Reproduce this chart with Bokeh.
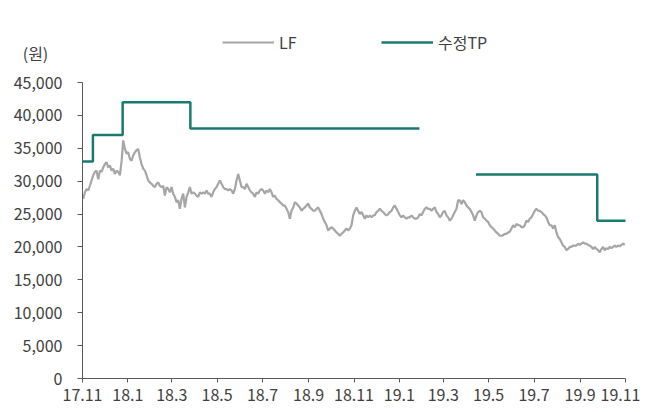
import numpy as np
import pandas as pd
from bokeh.plotting import figure
from bokeh.models import (FixedTicker, NumeralTickFormatter, Legend, LegendItem,
                          Label, Range1d)
from bokeh.embed import file_html
from bokeh.resources import INLINE

# ---- data ----
lf_start = "2017-11-02"
lf_end = "2019-10-31"
lf_values = [
    27300, 28300, 28800, 28600, 29300, 30100, 30900, 31400, 31600, 30300,
    31600, 31400, 32100, 32600, 32900, 32100, 32400, 31600, 31900, 31100,
    31600, 31400, 30900, 33000, 36200, 34900, 34200, 34400, 33400, 33100,
    33900, 34400, 34700, 34900, 33600, 32600, 31900, 31600, 30900, 30100,
    29800, 29600, 29300, 29100, 29600, 29800, 29300, 29100, 29300, 27800,
    29100, 28800, 28300, 29100,
    28100, 27600, 26800, 27100, 25800, 27300, 28100, 26000, 27600, 28300,
    29100, 28100, 28300, 28100, 27800, 27600, 28300, 28100, 28300, 28100,
    28600, 28100, 28100, 27600, 28300, 28800, 29100, 29600, 30100, 29600,
    29100, 28800, 28800, 28600, 28800, 28600, 28100, 28800, 30100, 31100,
    30100, 29100, 29100, 28800, 29600, 29100, 28600, 28300, 28100, 27600,
    28300, 28100, 28600, 28800, 28600,
    28100, 28600, 28300, 28800, 28300, 27600, 27800, 27300, 27100, 26800,
    26600, 26300, 26300, 25800, 25300, 24300, 25500, 26000, 26800, 26600,
    26300, 26000, 25500, 25800, 26000, 26300, 26600, 26000, 25800, 25500,
    25500, 25800, 26000, 25500, 25000, 24300, 23800, 23300, 22500, 22800,
    23000, 22800, 22500, 22200, 22000, 21700, 22000, 22200, 22500, 22800,
    22500, 22800, 23300, 24800,
    25500, 26000, 25500, 25000, 25300, 24800, 24300, 24800, 24500, 24800,
    24500, 24800, 24800, 25300, 25500, 25800, 25500, 25300, 25000, 24800,
    25000, 25300, 25500, 26000, 26300, 25800, 25300, 24800, 24500, 24800,
    24500, 24300, 24500, 24500, 24800, 24500, 24300, 24300, 24500, 25000,
    24800, 25300, 25800, 26000, 25800, 25800, 25500, 25800, 26000, 25300,
    25000, 24500, 24800, 25300,
    25500, 24800, 24500, 24000, 24300, 24800, 25300, 25800, 27100, 27100,
    26500, 27100, 26800, 26300, 26000, 25800, 25300, 24800, 24000, 24800,
    25300, 25500, 25300, 24500, 24300, 24000, 23800, 23300, 23000, 22800,
    22500, 22200, 22000, 21700, 21700, 21800, 22000, 22000, 22200, 22300,
    22800, 23300, 23000, 23500, 23300, 23300, 23000, 23000, 23300, 24000,
    23800, 24300, 24500, 25000,
    25500, 25800, 25500, 25500, 25300, 25000, 24800, 24500, 23800, 23300,
    23300, 22800, 23300, 22200, 21500, 21200, 20700, 20200, 20000, 19500,
    19700, 20000, 20000, 20200, 20200, 20200, 20500, 20300, 20500, 20700,
    20500, 20500, 20300, 20200, 20000, 19700, 20000, 19700, 19500, 19200,
    19700, 20000, 19500, 19800, 19700, 20000, 19800, 20000, 20200, 20000,
    20200, 20100, 20300, 20500, 20300,
]

tp_start = ["2017-11-01", "2017-11-15", "2017-12-25", "2018-03-26", "2019-04-14", "2019-09-24"]
tp_end = ["2017-11-15", "2017-12-25", "2018-03-26", "2019-01-28", "2019-09-24", "2019-11-01"]
tp_values = [33000, 37000, 42000, 38000, 31000, 24000]

tick_dates = ["2017-11-01", "2018-01-01", "2018-03-01", "2018-05-01", "2018-07-01",
              "2018-09-01", "2018-11-01", "2019-01-01", "2019-03-01", "2019-05-01",
              "2019-07-01", "2019-09-01", "2019-11-01"]
tick_labels = ["17.11", "18.1", "18.3", "18.5", "18.7", "18.9", "18.11",
               "19.1", "19.3", "19.5", "19.7", "19.9", "19.11"]
y_ticks = [0, 5000, 10000, 15000, 20000, 25000, 30000, 35000, 40000, 45000]

series_names = ["LF", "수정TP"]
unit_label = "(원)"

# ---- helpers ----
def ms(d):
    return pd.Timestamp(d).value / 1e6

lf_dates = pd.date_range(lf_start, lf_end, periods=len(lf_values))
lf_x = [d.value / 1e6 for d in lf_dates]

tp_x, tp_y = [], []
for s, e, v in zip(tp_start, tp_end, tp_values):
    if tp_x and tp_x[-1] != ms(s):
        tp_x.append(np.nan)
        tp_y.append(np.nan)
    tp_x += [ms(s), ms(e)]
    tp_y += [v, v]

# ---- layout: frame fills the canvas, axes drawn at fixed locations ----
W, H = 640, 408
AX_LEFT, AX_RIGHT = 82, 625      # pixel columns of first / last x tick
AX_TOP, AX_BOTTOM = 82, 378      # pixel rows of y max / y zero
x0, x1 = ms(tick_dates[0]), ms(tick_dates[-1])
y0, y1 = y_ticks[0], y_ticks[-1]
xpp = (x1 - x0) / (AX_RIGHT - AX_LEFT)
ypp = (y1 - y0) / (AX_BOTTOM - AX_TOP)
x_range = Range1d(x0 - AX_LEFT * xpp, x1 + (W - AX_RIGHT) * xpp)
y_range = Range1d(y0 - (H - AX_BOTTOM) * ypp, y1 + AX_TOP * ypp)

FONT = "Noto Sans CJK KR"
TXT = "#404040"
AX = "#595959"
FS = "16px"

p = figure(width=W, height=H, x_axis_type="datetime",
           x_range=x_range, y_range=y_range,
           output_backend="svg", toolbar_location=None,
           min_border=0)
p.outline_line_color = None
p.xgrid.visible = False
p.ygrid.visible = False
p.background_fill_color = "white"
p.border_fill_color = "white"

r_lf = p.line(lf_x, lf_values, line_color="#A6A6A6", line_width=2.2)
r_tp = p.line(tp_x, tp_y, line_color="#1B7A70", line_width=2.5)

# axes
xa = p.xaxis[0]
xa.fixed_location = y0
xa.bounds = (x0, x1)
xa.ticker = FixedTicker(ticks=[ms(d) for d in tick_dates])
xa.major_label_overrides = {ms(d): l for d, l in zip(tick_dates, tick_labels)}
xa.minor_tick_line_color = None
xa.major_tick_in = 0
xa.major_tick_out = 4
xa.major_label_standoff = 6
xa.axis_line_color = AX
xa.major_tick_line_color = AX
xa.major_label_text_font = FONT
xa.major_label_text_font_size = FS
xa.major_label_text_color = TXT

ya = p.yaxis[0]
ya.fixed_location = x0
ya.bounds = (y0, y1)
ya.ticker = FixedTicker(ticks=y_ticks)
ya.formatter = NumeralTickFormatter(format="0,0")
ya.minor_tick_line_color = None
ya.major_tick_in = 0
ya.major_tick_out = 5
ya.major_label_standoff = 15
ya.axis_line_color = AX
ya.major_tick_line_color = AX
ya.major_label_text_font = FONT
ya.major_label_text_font_size = FS
ya.major_label_text_color = TXT

# unit label (top-left)
p.add_layout(Label(x=35, y=H - 52, x_units="screen", y_units="screen",
                   text=unit_label, text_align="center", text_baseline="middle",
                   text_font=FONT, text_font_size=FS, text_color=TXT))

legend = Legend(items=[LegendItem(label=series_names[0], renderers=[r_lf]),
                       LegendItem(label=series_names[1], renderers=[r_tp])],
                orientation="horizontal", location=(222, H - 54),
                glyph_width=52, glyph_height=20, label_standoff=5, spacing=82,
                padding=0, margin=0, border_line_color=None,
                background_fill_alpha=0,
                label_text_font=FONT, label_text_font_size=FS,
                label_text_color=TXT)
p.add_layout(legend)

open("out.html", "w").write(file_html(p, INLINE))
